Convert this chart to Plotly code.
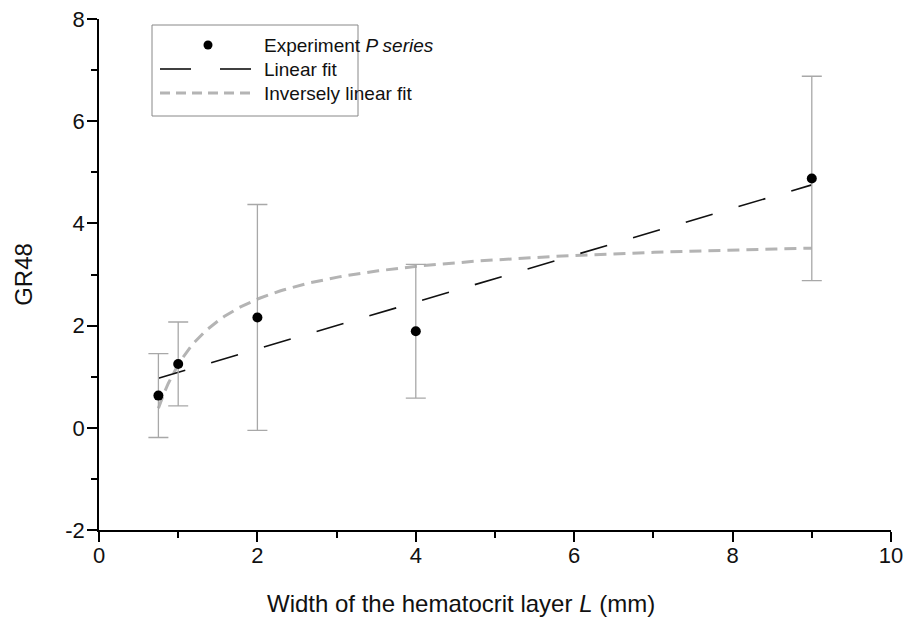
import numpy as np
import plotly.graph_objects as go

# Data
L_mm = [0.75, 1.0, 2.0, 4.0, 9.0]
GR48 = [0.63, 1.25, 2.16, 1.89, 4.88]
GR48_err = [0.82, 0.82, 2.21, 1.31, 2.0]

X_TICKS = [0, 2, 4, 6, 8, 10]
Y_TICKS = [-2, 0, 2, 4, 6, 8]
Y_TICK_LABELS = ["-2", "0", "2", "4", "6", "8"]

# Fits derived from the data
lin = np.polyfit(L_mm, GR48, 1)
inv = np.polyfit(1.0 / np.array(L_mm), GR48, 1)
xfit = np.linspace(min(L_mm), max(L_mm), 200)
y_lin = np.polyval(lin, xfit)
y_inv = np.polyval(inv, 1.0 / xfit)

FONT = "Liberation Sans, Arial, sans-serif"

fig = go.Figure()
fig.add_trace(go.Scatter(
    x=xfit, y=y_inv, mode="lines",
    line=dict(color="#b4b4b4", width=3, dash="12px,7px"),
    showlegend=False, hoverinfo="skip"))
fig.add_trace(go.Scatter(
    x=xfit, y=y_lin, mode="lines",
    line=dict(color="#111111", width=1.6, dash="28px,27px"),
    showlegend=False, hoverinfo="skip"))
fig.add_trace(go.Scatter(
    x=L_mm, y=GR48, mode="markers",
    marker=dict(color="black", size=10),
    error_y=dict(type="data", array=GR48_err, visible=True,
                 color="#a8a8a8", thickness=1.3, width=10),
    showlegend=False))

# Manual legend (paper coordinates)
def px(xpix):
    return (xpix - 99) / 792.0

def py(ypix):
    return (530 - ypix) / 511.0

shapes = [
    dict(type="rect", xref="paper", yref="paper",
         x0=px(152), x1=px(358), y0=py(116), y1=py(25),
         line=dict(color="#888888", width=1), fillcolor="white", layer="above"),
    dict(type="circle", xref="paper", yref="paper",
         x0=px(203.5), x1=px(212.5), y0=py(49.5), y1=py(40.5),
         line=dict(color="black", width=0), fillcolor="black", layer="above"),
    dict(type="line", xref="paper", yref="paper",
         x0=px(160), x1=px(191), y0=py(69), y1=py(69),
         line=dict(color="#111111", width=1.6), layer="above"),
    dict(type="line", xref="paper", yref="paper",
         x0=px(220), x1=px(251), y0=py(69), y1=py(69),
         line=dict(color="#111111", width=1.6), layer="above"),
    dict(type="line", xref="paper", yref="paper",
         x0=px(160), x1=px(251), y0=py(93), y1=py(93),
         line=dict(color="#b4b4b4", width=3, dash="10px,6px"), layer="above"),
]
legend_texts = ["Experiment <i>P series</i>", "Linear fit", "Inversely linear fit"]
legend_rows = [45, 69, 93]
annotations = []
for t, r in zip(legend_texts, legend_rows):
    annotations.append(dict(text=t, xref="paper", yref="paper",
                            x=px(262), y=py(r), xanchor="left", yanchor="middle",
                            showarrow=False, font=dict(size=19, color="#111111", family=FONT)))

# x-axis title (offset to the left of the axis centre, as in the original)
annotations.append(dict(text="Width of the hematocrit layer <i>L</i> (mm)",
                        xref="paper", yref="paper", x=px(461), y=py(604),
                        xanchor="center", yanchor="middle", showarrow=False,
                        font=dict(size=24, color="#111111", family=FONT)))

fig.update_layout(
    width=907, height=619,
    margin=dict(l=99, r=16, t=19, b=89),
    paper_bgcolor="white", plot_bgcolor="white",
    font=dict(family=FONT, color="#111111"),
    shapes=shapes, annotations=annotations,
)
fig.update_xaxes(
    range=[0, 10], tickmode="array", tickvals=X_TICKS,
    showline=True, linecolor="black", linewidth=1.6,
    ticks="outside", ticklen=10, tickwidth=1.6, tickcolor="black",
    minor=dict(dtick=1, tick0=0, ticklen=6, tickwidth=1.6, tickcolor="black", ticks="outside"),
    showgrid=False, zeroline=False, automargin=False,
    tickfont=dict(size=22, family=FONT), ticklabelstandoff=-5,
)
fig.update_yaxes(
    range=[-2, 8], tickmode="array", tickvals=Y_TICKS, ticktext=Y_TICK_LABELS,
    showline=True, linecolor="black", linewidth=1.6,
    ticks="outside", ticklen=10, tickwidth=1.6, tickcolor="black",
    minor=dict(dtick=1, tick0=0, ticklen=6, tickwidth=1.6, tickcolor="black", ticks="outside"),
    showgrid=False, zeroline=False, automargin=False,
    tickfont=dict(size=22, family=FONT), ticklabelstandoff=-2,
    title=dict(text="GR48", font=dict(size=24, family=FONT), standoff=26),
)

fig.write_html("out.html")
